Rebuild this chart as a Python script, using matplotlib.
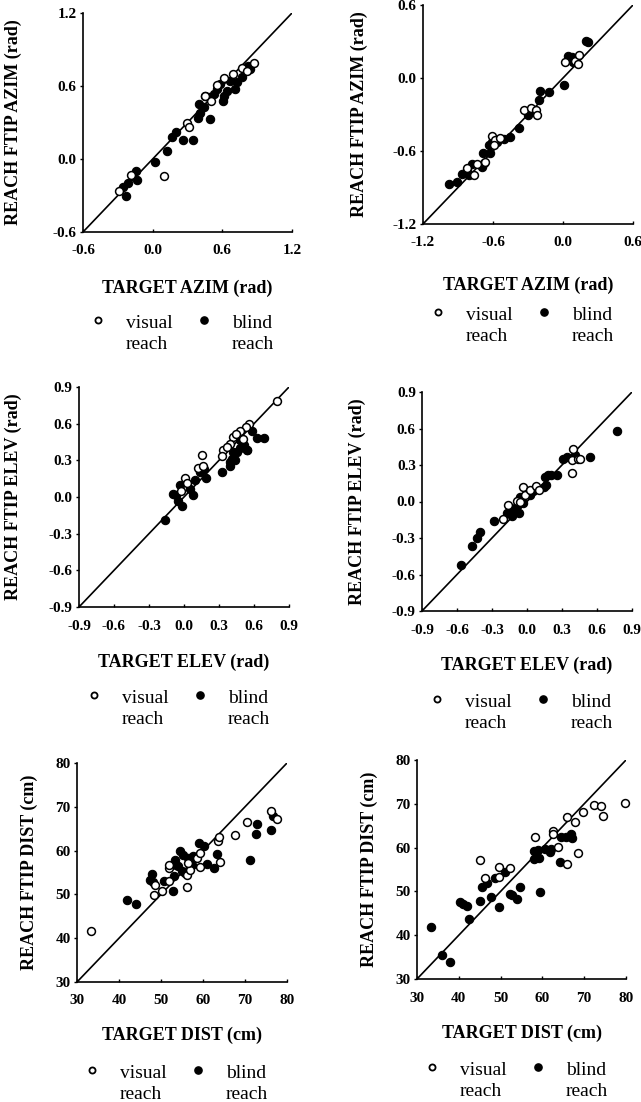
import matplotlib
matplotlib.use("Agg")
import matplotlib.pyplot as plt
from matplotlib.lines import Line2D

W, H = 641, 1102
plt.rcParams['font.family'] = ['Liberation Serif', 'DejaVu Serif']

# ---------------- data ----------------
# Panel 1: azimuth, subject A
azA_vis_x = [-0.287, -0.19, 0.10, 0.295, 0.315, 0.50, 0.616, 0.688, 0.768, 0.877, 0.81, 0.553, 0.45]
azA_vis_y = [-0.266, -0.13, -0.137, 0.30, 0.266, 0.477, 0.663, 0.70, 0.745, 0.789, 0.726, 0.608, 0.52]
azA_bl_x = [-0.232, -0.255, -0.21, -0.14, -0.135, 0.023, 0.123, 0.17, 0.20, 0.258, 0.35, 0.387,
            0.404, 0.40, 0.44, 0.496, 0.453, 0.487, 0.524, 0.553, 0.605, 0.616, 0.64, 0.71,
            0.725, 0.77, 0.84, 0.825, 0.668, 0.58]
azA_bl_y = [-0.30, -0.227, -0.20, -0.10, -0.17, -0.027, 0.066, 0.178, 0.219, 0.156, 0.156, 0.334,
            0.378, 0.452, 0.425, 0.326, 0.52, 0.507, 0.534, 0.575, 0.479, 0.52, 0.56, 0.575,
            0.63, 0.67, 0.74, 0.767, 0.644, 0.616]

# Panel 2: azimuth, subject B
azB_vis_x = [-0.765, -0.665, -0.608, -0.58, -0.537, -0.59, -0.333, -0.276, -0.23, -0.225,
             0.017, 0.10, 0.13, 0.14, -0.82, -0.736]
azB_vis_y = [-0.80, -0.687, -0.48, -0.51, -0.493, -0.548, -0.267, -0.245, -0.267, -0.30,
             0.128, 0.14, 0.114, 0.188, -0.738, -0.703]
azB_bl_x = [-0.975, -0.907, -0.864, -0.82, -0.78, -0.81, -0.694, -0.675, -0.69, -0.623, -0.637,
            -0.61, -0.566, -0.51, -0.452, -0.38, -0.296, -0.28, -0.21, -0.20, -0.12, 0.009,
            0.045, 0.074, 0.088, 0.20, 0.21]
azB_bl_y = [-0.872, -0.853, -0.785, -0.757, -0.703, -0.80, -0.73, -0.70, -0.616, -0.62, -0.548,
            -0.53, -0.526, -0.50, -0.485, -0.41, -0.308, -0.28, -0.18, -0.109, -0.117, -0.054,
            0.183, 0.174, 0.128, 0.305, 0.297]

# Panel 3: elevation, subject A
elA_vis_x = [0.797, 0.553, 0.533, 0.476, 0.424, 0.395, 0.332, 0.324, 0.367, 0.447, 0.504,
             0.158, 0.123, 0.009, 0.023, -0.026, 0.166]
elA_vis_y = [0.783, 0.60, 0.573, 0.54, 0.49, 0.436, 0.382, 0.333, 0.41, 0.513, 0.477,
             0.346, 0.24, 0.158, 0.115, 0.046, 0.25]
elA_bl_x = [-0.163, -0.097, -0.069, -0.049, -0.02, -0.034, 0.052, 0.074, 0.095, 0.138, 0.19,
            0.172, 0.324, 0.39, 0.41, 0.424, 0.458, 0.48, 0.539, 0.544, 0.58, 0.625, 0.682,
            0.48, 0.51, 0.395, 0.438]
elA_bl_y = [-0.19, 0.027, 0.014, -0.033, -0.074, 0.095, 0.068, 0.019, 0.136, 0.205, 0.158,
            0.232, 0.205, 0.25, 0.314, 0.368, 0.368, 0.40, 0.387, 0.382, 0.54, 0.485, 0.485,
            0.464, 0.423, 0.286, 0.30]

# Panel 4: elevation, subject B
elB_vis_x = [-0.208, -0.16, -0.088, -0.06, -0.031, -0.017, 0.026, 0.077, 0.105, 0.382, 0.396,
             0.387, 0.439, 0.453]
elB_vis_y = [-0.144, -0.026, 0.007, 0.0, 0.116, 0.056, 0.097, 0.125, 0.097, 0.234, 0.43,
             0.344, 0.352, 0.35]
elB_bl_x = [-0.567, -0.473, -0.43, -0.407, -0.282, -0.145, -0.131, -0.111, -0.088, -0.068, -0.06,
            -0.031, 0.026, 0.054, 0.145, 0.162, 0.154, 0.182, 0.205, 0.254, 0.31, 0.339, 0.41,
            0.538, 0.775, -0.174]
elB_bl_y = [-0.525, -0.363, -0.30, -0.253, -0.158, -0.053, -0.122, -0.081, -0.04, -0.095, 0.037,
            -0.012, 0.056, 0.084, 0.119, 0.138, 0.20, 0.22, 0.22, 0.22, 0.352, 0.366, 0.385,
            0.363, 0.577, -0.095]

# Panel 5: distance, subject A
diA_vis_x = [33.3, 48.4, 50.2, 48.6, 51.8, 51.8, 52.0, 56.1, 56.1, 56.9, 56.5, 58.5, 59.4,
             64.0, 63.6, 63.9, 67.7, 70.5, 76.3, 77.7, 59.3]
diA_vis_y = [41.7, 49.9, 50.7, 52.2, 53.0, 56.0, 56.6, 51.8, 54.5, 55.6, 57.2, 58.3, 56.2,
             57.5, 62.1, 63.1, 63.6, 66.5, 69.0, 67.3, 59.5]
diA_bl_x = [42.0, 44.0, 47.8, 47.4, 48.0, 50.6, 52.9, 53.2, 53.6, 54.5, 55.2, 54.9, 55.7, 57.7,
            59.1, 60.2, 61.0, 62.7, 63.4, 71.1, 72.6, 72.9, 76.1, 76.7, 53.3, 54.1, 56.5, 57.3]
diA_bl_y = [48.8, 47.7, 54.7, 53.4, 52.8, 53.0, 50.7, 54.1, 56.8, 59.8, 59.1, 55.3, 54.9, 58.7,
            61.7, 61.0, 57.0, 56.0, 59.3, 57.8, 63.8, 66.1, 64.8, 68.0, 57.9, 56.4, 58.3, 56.8]

# Panel 6: distance, subject B
diB_vis_x = [45.0, 46.2, 49.5, 49.7, 52.3, 58.3, 62.5, 62.6, 63.8, 65.8, 65.8, 67.8, 68.6,
             69.8, 72.4, 74.0, 74.6, 79.8]
diB_vis_y = [57.2, 53.0, 53.4, 55.5, 55.3, 62.5, 63.7, 63.1, 60.2, 56.2, 67.1, 65.9, 58.7,
             68.2, 69.7, 69.4, 67.2, 70.1]
diB_bl_x = [33.4, 36.0, 38.0, 40.4, 41.0, 41.9, 42.5, 45.1, 45.5, 46.7, 47.8, 48.6, 49.7, 51.1,
            52.3, 52.7, 53.9, 54.7, 58.1, 58.1, 58.9, 59.1, 59.5, 60.7, 61.8, 62.1, 64.2, 64.4,
            65.6, 66.8, 67.2]
diB_bl_y = [41.8, 35.4, 33.9, 47.5, 47.1, 46.6, 43.8, 47.7, 51.1, 51.9, 48.8, 53.0, 46.4, 54.5,
            49.5, 49.1, 48.2, 50.9, 57.4, 59.3, 59.5, 57.7, 49.8, 59.6, 59.1, 59.6, 56.8, 62.4,
            62.5, 63.1, 62.1]

azim_ticks_A = [-0.6, 0.0, 0.6, 1.2]
azim_ticks_B = [-1.2, -0.6, 0.0, 0.6]
elev_ticks = [-0.9, -0.6, -0.3, 0.0, 0.3, 0.6, 0.9]
dist_ticks = [30, 40, 50, 60, 70, 80]
azim_labels_A = ["-0.6", "0.0", "0.6", "1.2"]
azim_labels_B = ["-1.2", "-0.6", "0.0", "0.6"]
elev_labels = ["-0.9", "-0.6", "-0.3", "0.0", "0.3", "0.6", "0.9"]
dist_labels = ["30", "40", "50", "60", "70", "80"]

xlabels = ["TARGET AZIM (rad)", "TARGET AZIM (rad)", "TARGET ELEV (rad)",
           "TARGET ELEV (rad)", "TARGET DIST (cm)", "TARGET DIST (cm)"]
ylabels = ["REACH FTIP AZIM (rad)", "REACH FTIP AZIM (rad)", "REACH FTIP ELEV (rad)",
           "REACH FTIP ELEV (rad)", "REACH FTIP DIST (cm)", "REACH FTIP DIST (cm)"]
legend_labels = [("visual", "reach"), ("blind", "reach")]

# ---------------- layout (pixels) ----------------
boxes = [(83, 13, 292, 232), (423, 5, 633, 224),
         (79, 387, 289, 607), (422, 392, 632, 611),
         (77, 763, 287, 982), (417, 760, 626, 979)]
xlab_dy = [61, 66, 60, 59, 58, 59]
ylab_x = [13, 359, 13, 357, 29, 369]

panel_data = [
    (azA_vis_x, azA_vis_y, azA_bl_x, azA_bl_y, azim_ticks_A, azim_labels_A),
    (azB_vis_x, azB_vis_y, azB_bl_x, azB_bl_y, azim_ticks_B, azim_labels_B),
    (elA_vis_x, elA_vis_y, elA_bl_x, elA_bl_y, elev_ticks, elev_labels),
    (elB_vis_x, elB_vis_y, elB_bl_x, elB_bl_y, elev_ticks, elev_labels),
    (diA_vis_x, diA_vis_y, diA_bl_x, diA_bl_y, dist_ticks, dist_labels),
    (diB_vis_x, diB_vis_y, diB_bl_x, diB_bl_y, dist_ticks, dist_labels),
]


def fx(px):
    return px / W


def fy(py):
    return 1 - py / H


fig = plt.figure(figsize=(W / 100, H / 100), dpi=100)
fig.patch.set_facecolor("white")

tick_font = dict(family=['Liberation Serif', 'DejaVu Serif'], weight='bold', size=11)

for i, (vx, vy, bx, by, ticks, tlabels) in enumerate(panel_data):
    l, t, r, b = boxes[i]
    ax = fig.add_axes([fx(l), fy(b), (r - l) / W, (b - t) / H])
    lo, hi = ticks[0], ticks[-1]
    ax.set_xlim(lo, hi)
    ax.set_ylim(lo, hi)
    ax.plot([lo, hi], [lo, hi], color='black', lw=1.2, zorder=2)
    ax.scatter(bx, by, s=36, facecolor='black', edgecolor='black', lw=0.8, zorder=3, clip_on=False)
    ax.scatter(vx, vy, s=32, facecolor='white', edgecolor='black', lw=1.1, zorder=4, clip_on=False)
    for sp in ['top', 'right']:
        ax.spines[sp].set_visible(False)
    for sp in ['left', 'bottom']:
        ax.spines[sp].set_linewidth(1.2)
    ax.set_xticks(ticks)
    ax.set_yticks(ticks)
    ax.set_xticklabels(tlabels, fontdict=tick_font)
    ax.set_yticklabels(tlabels, fontdict=tick_font)
    ax.tick_params(axis='x', direction='in', length=2.5, width=1, pad=9)
    ax.tick_params(axis='y', direction='out', length=2.5, width=1, pad=2)

    cx = (l + r) / 2
    fig.text(fx(cx), fy(b + xlab_dy[i]), xlabels[i], ha='center', va='baseline',
             fontsize=13, fontweight='bold')
    fig.text(fx(ylab_x[i]), fy((t + b) / 2), ylabels[i], ha='center', va='center',
             rotation=90, fontsize=13, fontweight='bold')

    # legend
    my = b + 88
    fig.add_artist(Line2D([fx(l + 15)], [fy(my)], marker='o', ms=4.4, mfc='white',
                          mec='black', mew=1.3, ls='none'))
    fig.add_artist(Line2D([fx(l + 121)], [fy(my)], marker='o', ms=5.2, mfc='black',
                          mec='black', ls='none'))
    for (w1, w2), tx in zip(legend_labels, [l + 43, l + 149]):
        fig.text(fx(tx), fy(b + 96), w1, ha='left', va='baseline', fontsize=14)
        fig.text(fx(tx), fy(b + 117), w2, ha='left', va='baseline', fontsize=14)

fig.savefig("out.png", dpi=100)
